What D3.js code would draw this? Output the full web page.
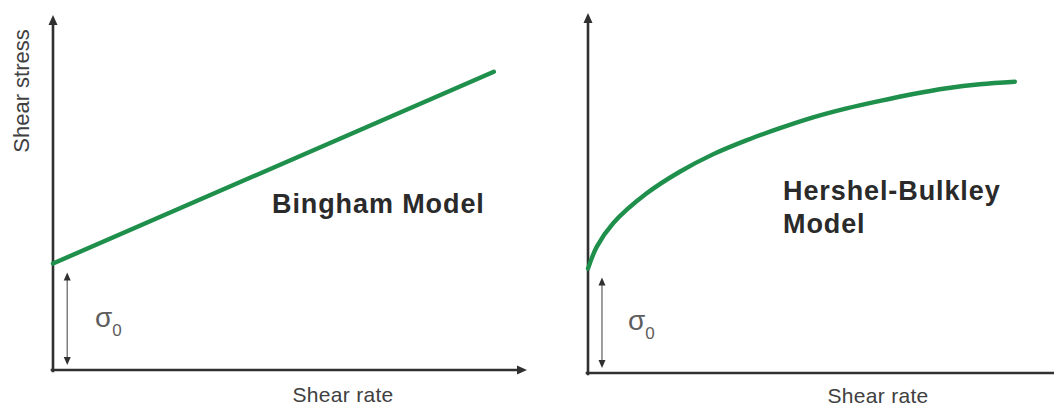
<!DOCTYPE html>
<html><head><meta charset="utf-8">
<script src="https://cdn.jsdelivr.net/npm/d3@7"></script>
<style>
html,body{margin:0;padding:0;background:#fff;}
svg{display:block;}
text{font-family:"Liberation Sans",Arial,Helvetica,sans-serif;}
</style></head>
<body>
<svg id="chart" width="1054" height="406"></svg>
<script>
// ---- data (arbitrary units: shear rate 0-100, shear stress 0-100) ----
const binghamRate   = [0, 93];
const binghamStress = [30, 84];
const hbRate   = [0, 1.9, 5.4, 12.6, 19.7, 26.9, 34.1, 41.2, 48.3, 55.5, 62.7, 69.8, 77.0, 84.1, 91.6];
const hbStress = [29, 35.1, 41.6, 49.9, 55.9, 60.8, 64.7, 68.0, 71.0, 73.5, 75.6, 77.5, 79.1, 80.2, 80.9];
const yieldStress = [30, 29];      // sigma_0 for each panel
const yieldArrowRate = [3, 3];
const panelTitles = [["Bingham Model"], ["Hershel-Bulkley", "Model"]];
const xLabel = "Shear rate";
const yLabel = "Shear stress";

const svg = d3.select("#chart");
const green = "#1f8f4c";
const axisCol = "#303030";

const panels = [
  {x0:53, x1:527, y0:370, y1:15, arrowX:true, rate:binghamRate, stress:binghamStress,
   title:{x:272, y:213}, sigma:{x:95, y:327}, lab:{x:343, y:402}},
  {x0:588, x1:1054, y0:373, y1:13, arrowX:false, rate:hbRate, stress:hbStress,
   title:{x:783, y:200}, sigma:{x:628, y:330}, lab:{x:878, y:403}}
];

panels.forEach((p, i) => {
  const x = d3.scaleLinear().domain([0,100]).range([p.x0, p.x1]);
  const y = d3.scaleLinear().domain([0,100]).range([p.y0, p.y1]);
  const g = svg.append("g");

  // axes (no ticks)
  const yAx = g.append("g").attr("transform", `translate(${p.x0},0)`)
    .call(d3.axisLeft(y).tickValues([]).tickSizeOuter(0));
  const xAx = g.append("g").attr("transform", `translate(0,${p.y0})`)
    .call(d3.axisBottom(x).tickValues([]).tickSizeOuter(0));
  g.selectAll(".domain").attr("stroke", axisCol).attr("stroke-width", 2.6)
    .attr("stroke-linecap", "square");
  yAx.select(".domain").attr("d", `M0,${y(0)+1}V${y(100)+8}`);
  xAx.select(".domain").attr("d", `M${x(0)-1},0H${p.arrowX ? x(100)-8 : x(100)+4}`);

  // axis arrowheads
  g.append("path").attr("fill", axisCol)
    .attr("d", `M${x(0)},${y(100)} l-4.5,10 l9,0 z`);
  if (p.arrowX) {
    g.append("path").attr("fill", axisCol)
      .attr("d", `M${x(100)},${y(0)} l-10,-4.5 l0,9 z`);
  }

  // model curve
  const line = d3.line().x(d => x(d[0])).y(d => y(d[1]))
    .curve(i === 0 ? d3.curveLinear : d3.curveCatmullRom.alpha(0.5));
  g.append("path").datum(p.rate.map((r, k) => [r, p.stress[k]]))
    .attr("d", line).attr("fill", "none").attr("stroke", green)
    .attr("stroke-width", 4.4).attr("stroke-linecap", "round");

  // sigma_0 arrow
  const ax = x(yieldArrowRate[i]);
  const top = y(yieldStress[i]) + 9, bot = y(0) - 5;
  g.append("line").attr("x1", ax).attr("x2", ax).attr("y1", top + 6).attr("y2", bot - 6)
    .attr("stroke", "#6a6a6a").attr("stroke-width", 1.3);
  g.append("path").attr("fill", axisCol).attr("d", `M${ax},${top} l-3.5,8 l7,0 z`);
  g.append("path").attr("fill", axisCol).attr("d", `M${ax},${bot} l-3.5,-8 l7,0 z`);

  // sigma label
  const st = g.append("text").attr("x", p.sigma.x).attr("y", p.sigma.y)
    .attr("fill", "#5e5e5e").attr("font-size", 28).text("σ");
  st.append("tspan").attr("font-size", 17).attr("dy", 9).text("0");

  // title
  const tt = g.append("text").attr("x", p.title.x).attr("y", p.title.y)
    .attr("fill", "#2a2a2a").attr("font-size", 27).attr("font-weight", "bold")
    .attr("letter-spacing", "0.9px");
  panelTitles[i].forEach((t, k) => {
    tt.append("tspan").attr("x", p.title.x).attr("dy", k === 0 ? 0 : 33).text(t);
  });

  // x label
  g.append("text").attr("x", p.lab.x).attr("y", p.lab.y).attr("text-anchor", "middle")
    .attr("fill", "#404040").attr("font-size", 21).attr("letter-spacing", "0.3px").text(xLabel);
});

// y label (left panel only)
svg.append("text").attr("transform", "translate(29,91) rotate(-90)")
  .attr("text-anchor", "middle").attr("fill", "#404040").attr("font-size", 22).text(yLabel);
</script>
</body></html>
